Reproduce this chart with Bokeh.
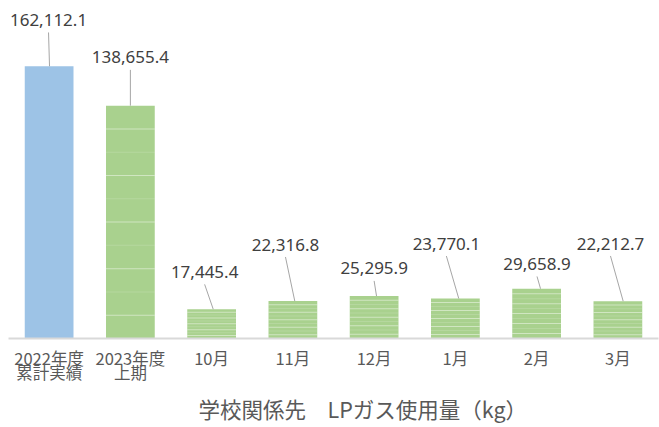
from bokeh.plotting import figure
from bokeh.models import (ColumnDataSource, FactorRange, Range1d, Title,
                          CategoricalAxis)
from bokeh.embed import file_html
from bokeh.resources import INLINE
from bokeh.core.properties import value

# ---- data ----
categories = ["2022年度", "2023年度", "10月", "11月", "12月", "1月", "2月", "3月"]
label_line2 = ["累計実績", "上期", "", "", "", "", "", ""]
usage_kg = [162112.1, 138655.4, 17445.4, 22316.8, 25295.9, 23770.1, 29658.9, 22212.7]
chart_title = "学校関係先　LPガス使用量（kg）"

# ---- layout / style ----
W, H = 659, 427
FRAME_W, FRAME_H = 650, 332
Y_MAX = 196500
XPX = len(categories) / FRAME_W      # data units per pixel (x)
YPX = Y_MAX / FRAME_H                # data units per pixel (y)

BLUE = "#9DC3E6"
GREEN = "#A9D18E"
bar_colors = [BLUE] + [GREEN] * (len(categories) - 1)

# label placement (pixels relative to bar centre / top)
label_dx = [-0.6, 0, -7, -7.4, 0, -9, 0.4, -7.4]
label_dy = [46.5, 48.5, 37.5, 56.8, 27.7, 55.3, 24.8, 58]
leader_dx = [0.4, 0, 1.6, 1.9, 2.4, 3.4, 3.9, 5.3]
LEADER_GAP = 12.5

FONT_CJK = "Noto Sans CJK JP"
FONT_NUM = "Noto Sans"
TICK_SIZE = "16.5px"
TEXT_GRAY = "#595959"

p = figure(
    x_range=FactorRange(*categories, range_padding=0),
    y_range=Range1d(0, Y_MAX),
    width=W, height=H,
    output_backend="svg", toolbar_location=None,
    y_axis_location=None,
    min_border_left=8, min_border_right=1, min_border_top=8, min_border_bottom=87,
)
p.outline_line_color = None
p.xgrid.visible = False
p.ygrid.visible = False
p.background_fill_color = "white"
p.border_fill_color = "white"

# bars
src = ColumnDataSource(dict(cat=categories, val=usage_kg, color=bar_colors))
p.vbar(x="cat", top="val", width=0.6, fill_color="color", line_color=None, source=src)

# faint horizontal stripes on the green bars
sx, sy, sa = [], [], []
for c, v in zip(categories[1:], usage_kg[1:]):
    for k in range(1, 10):
        sx.append(c)
        sy.append(v * k / 10)
        sa.append(0.45 if k % 2 == 1 else 0.15)
p.rect(x=sx, y=sy, width=0.6, height=1, height_units="screen",
       fill_color="white", fill_alpha=sa, line_color=None)

# data labels + leader lines
lx, ly, lt = [], [], []
x0, y0, x1, y1 = [], [], [], []
for i, v in enumerate(usage_kg):
    cx = i + 0.5
    tx = cx + label_dx[i] * XPX
    ty = v + label_dy[i] * YPX
    lx.append(tx)
    ly.append(ty)
    lt.append(f"{v:,.1f}")
    x0.append(tx)
    y0.append(ty - LEADER_GAP * YPX)
    x1.append(cx + leader_dx[i] * XPX)
    y1.append(v)

p.segment(x0=x0, y0=y0, x1=x1, y1=y1, line_color="#a6a6a6", line_width=1)
p.text(x=lx, y=ly, text=lt, text_align="center", text_baseline="middle",
       text_font=value(FONT_NUM), text_font_size="17px", text_color="#404040")


def style_axis(a, standoff):
    a.major_tick_line_color = None
    a.minor_tick_line_color = None
    a.major_tick_out = 0
    a.major_tick_in = 0
    a.major_label_standoff = standoff
    a.major_label_text_font = FONT_CJK
    a.major_label_text_font_size = TICK_SIZE
    a.major_label_text_color = TEXT_GRAY
    a.major_label_orientation = "horizontal"


# x axis: first line of category labels
ax = p.xaxis[0]
style_axis(ax, 7)
ax.axis_line_color = "#d9d9d9"
ax.axis_line_width = 2

# second line of the two-line category labels: a twin categorical range
# (blank entries become unique invisible factors)
line2_factors = [t if t else " " * (i + 1) for i, t in enumerate(label_line2)]
p.extra_x_ranges = {"line2": FactorRange(*line2_factors, range_padding=0)}
ax2 = CategoricalAxis(x_range_name="line2")
style_axis(ax2, -13)
ax2.axis_line_color = None
p.add_layout(ax2, "below")

# title below
t = Title(text=chart_title, align="left", offset=190,
          text_font=FONT_CJK, text_font_size="21.5px", text_font_style="normal",
          text_color=TEXT_GRAY, standoff=8)
p.add_layout(t, "below")

open("out.html", "w").write(file_html(p, INLINE))
